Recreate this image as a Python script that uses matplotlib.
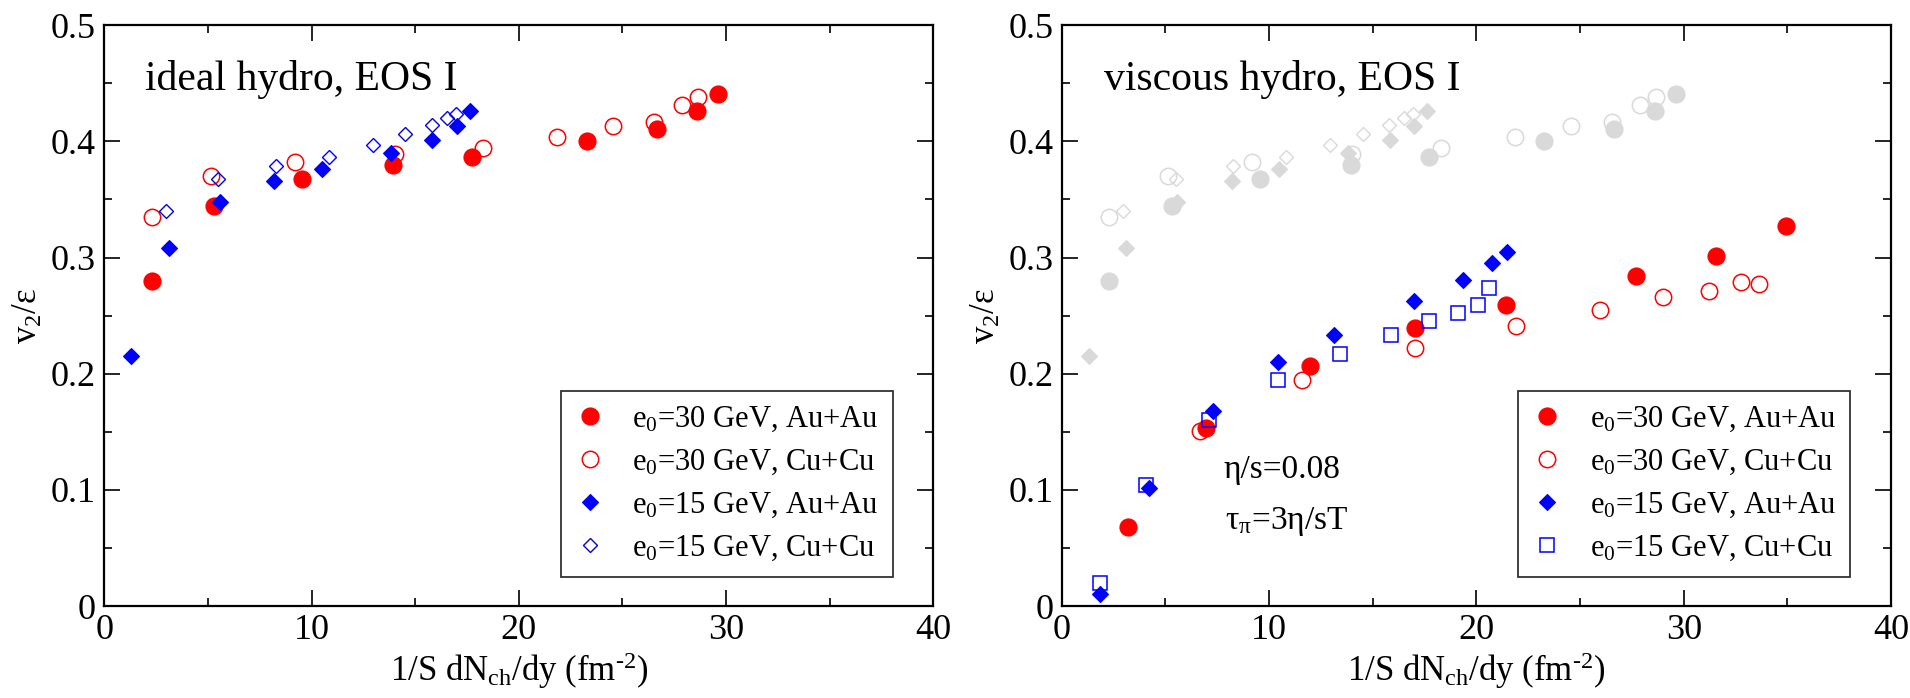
import matplotlib
matplotlib.use("Agg")
import matplotlib.pyplot as plt
from matplotlib.ticker import MultipleLocator

plt.rcParams["font.family"] = ["Liberation Serif", "DejaVu Serif"]
plt.rcParams["mathtext.fontset"] = "custom"
plt.rcParams["mathtext.rm"] = "Liberation Serif"
plt.rcParams["mathtext.it"] = "Liberation Serif:italic"
plt.rcParams["axes.unicode_minus"] = False

# ---- ideal hydro, EOS I ----
ideal_au30_x = [2.28, 5.30, 9.55, 13.94, 17.73, 23.27, 26.65, 28.61, 29.62]
ideal_au30_y = [0.280, 0.344, 0.368, 0.380, 0.387, 0.400, 0.411, 0.426, 0.441]
ideal_cu30_x = [2.28, 5.13, 9.19, 14.02, 18.29, 21.86, 24.56, 26.54, 27.87, 28.66]
ideal_cu30_y = [0.335, 0.370, 0.382, 0.389, 0.394, 0.404, 0.413, 0.417, 0.431, 0.438]
ideal_au15_x = [1.29, 3.10, 5.58, 8.20, 10.48, 13.82, 15.82, 17.00, 17.62]
ideal_au15_y = [0.215, 0.308, 0.348, 0.366, 0.376, 0.390, 0.401, 0.413, 0.426]
ideal_cu15_x = [2.97, 5.50, 8.28, 10.83, 12.94, 14.51, 15.79, 16.51, 16.96]
ideal_cu15_y = [0.340, 0.368, 0.379, 0.387, 0.397, 0.406, 0.414, 0.420, 0.424]

# ---- viscous hydro, EOS I (eta/s = 0.08) ----
visc_au30_x = [3.18, 6.95, 11.96, 17.03, 21.42, 27.72, 31.56, 34.94]
visc_au30_y = [0.068, 0.153, 0.207, 0.239, 0.259, 0.284, 0.301, 0.327]
visc_cu30_x = [6.67, 11.61, 17.04, 21.92, 25.95, 28.99, 31.22, 32.75, 33.65]
visc_cu30_y = [0.151, 0.195, 0.222, 0.241, 0.255, 0.266, 0.271, 0.279, 0.277]
visc_au15_x = [1.86, 4.23, 7.31, 10.45, 13.14, 17.00, 19.36, 20.74, 21.47]
visc_au15_y = [0.010, 0.102, 0.168, 0.210, 0.233, 0.263, 0.281, 0.295, 0.305]
visc_cu15_x = [1.86, 4.05, 7.09, 10.42, 13.43, 15.89, 17.73, 19.13, 20.07, 20.61]
visc_cu15_y = [0.020, 0.104, 0.160, 0.195, 0.217, 0.233, 0.245, 0.252, 0.259, 0.274]

labels = [r"e$_{\mathregular{0}}$=30 GeV, Au+Au",
          r"e$_{\mathregular{0}}$=30 GeV, Cu+Cu",
          r"e$_{\mathregular{0}}$=15 GeV, Au+Au",
          r"e$_{\mathregular{0}}$=15 GeV, Cu+Cu"]

RED = "#ff0000"
BLUE = "#0000ff"
GRAY = "#d9d9d9"

fig = plt.figure(figsize=(19.10, 6.98), dpi=100)
fig.patch.set_facecolor("white")
ax1 = fig.add_axes([0.0546, 0.1318, 0.4341, 0.8320])
ax2 = fig.add_axes([0.5559, 0.1318, 0.4342, 0.8320])


def style_axes(ax):
    ax.set_xlim(0, 40)
    ax.set_ylim(0, 0.5)
    ax.xaxis.set_major_locator(MultipleLocator(10))
    ax.xaxis.set_minor_locator(MultipleLocator(5))
    ax.yaxis.set_major_locator(MultipleLocator(0.1))
    ax.yaxis.set_minor_locator(MultipleLocator(0.05))
    ax.xaxis.set_major_formatter(plt.FuncFormatter(lambda v, p: f"{v:g}"))
    ax.yaxis.set_major_formatter(plt.FuncFormatter(lambda v, p: f"{v:g}"))
    ax.tick_params(which="both", direction="in", top=True, right=True,
                   width=1.2, labelsize=26, colors="black")
    ax.tick_params(which="major", length=11.5, pad=6)
    ax.tick_params(which="minor", length=6)
    for s in ax.spines.values():
        s.set_linewidth(1.6)
    ax.set_xlabel("1/S dN$_{\\mathregular{ch}}$/dy (fm$^{\\mathregular{\u2010" + "2}}$)",
                  fontsize=25, labelpad=2)
    ax.set_ylabel(r"v$_{\mathregular{2}}$/ε", fontsize=25, labelpad=4)


def draw_sets(ax, xs, ys, colors, open15_marker, z):
    """Four series: filled circle, open circle, filled diamond, open marker."""
    (c1, c2, c3, c4) = colors
    h = [
        ax.plot(xs[0], ys[0], ls="none", marker="o", ms=12.3, mfc=c1, mec=c1, mew=0.8, zorder=z)[0],
        ax.plot(xs[1], ys[1], ls="none", marker="o", ms=11.8, mfc="none", mec=c2, mew=1.1, zorder=z)[0],
        ax.plot(xs[2], ys[2], ls="none", marker="D", ms=8.6, mfc=c3, mec=c3, mew=0.8, zorder=z)[0],
    ]
    if open15_marker == "D":
        h.append(ax.plot(xs[3], ys[3], ls="none", marker="D", ms=7.6, mfc="none", mec=c4,
                         mew=1.0, zorder=z)[0])
    else:
        h.append(ax.plot(xs[3], ys[3], ls="none", marker="s", ms=9.6, mfc="none", mec=c4,
                         mew=1.1, zorder=z)[0])
    return h


ideal_x = [ideal_au30_x, ideal_cu30_x, ideal_au15_x, ideal_cu15_x]
ideal_y = [ideal_au30_y, ideal_cu30_y, ideal_au15_y, ideal_cu15_y]
visc_x = [visc_au30_x, visc_cu30_x, visc_au15_x, visc_cu15_x]
visc_y = [visc_au30_y, visc_cu30_y, visc_au15_y, visc_cu15_y]

# left panel: ideal hydro
style_axes(ax1)
h1 = draw_sets(ax1, ideal_x, ideal_y, (RED, RED, BLUE, BLUE), "D", 3)
ax1.text(0.049, 0.8886, "ideal hydro, EOS I", transform=ax1.transAxes,
         fontsize=30, va="baseline", ha="left")

# right panel: ideal results in gray underneath, viscous results on top
style_axes(ax2)
draw_sets(ax2, ideal_x, ideal_y, (GRAY, GRAY, GRAY, GRAY), "D", 2)
h2 = draw_sets(ax2, visc_x, visc_y, (RED, RED, BLUE, BLUE), "s", 3)
ax2.text(0.051, 0.8886, "viscous hydro, EOS I", transform=ax2.transAxes,
         fontsize=30, va="baseline", ha="left")
ax2.text(0.195, 0.221, "η/s=0.08", transform=ax2.transAxes,
         fontsize=24, va="baseline", ha="left")
ax2.text(0.197, 0.132, r"τ$_{\mathregular{π}}$=3η/sT", transform=ax2.transAxes,
         fontsize=24, va="baseline", ha="left")

for ax, hs in ((ax1, h1), (ax2, h2)):
    leg = ax.legend(hs, labels, loc="lower left", bbox_to_anchor=(0.5504, 0.0505),
                    borderaxespad=0, fontsize=22, frameon=True, fancybox=False,
                    handlelength=1.0, handletextpad=0.9, borderpad=0.45,
                    labelspacing=0.45, framealpha=1)
    leg.get_frame().set_edgecolor("#333333")
    leg.get_frame().set_linewidth(1.3)

fig.savefig("out.png", dpi=100, facecolor="white")
